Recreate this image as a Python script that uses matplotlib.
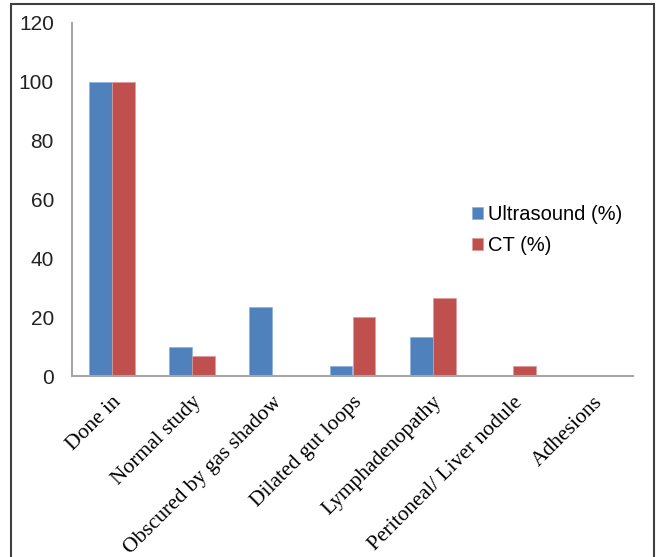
import matplotlib
matplotlib.use("Agg")
import matplotlib.pyplot as plt
import numpy as np
from matplotlib.patches import Rectangle

categories = ["Done in", "Normal study", "Obscured by gas shadow", "Dilated gut loops",
              "Lymphadenopathy", "Peritoneal/ Liver nodule", "Adhesions"]
ultrasound = [100, 10, 23.33, 3.33, 13.33, 0, 0]
ct = [100, 6.67, 0, 20, 26.67, 3.33, 0]
series_names = ["Ultrasound (%)", "CT (%)"]
yticks = [0, 20, 40, 60, 80, 100, 120]

W, H = 657, 557
fig = plt.figure(figsize=(W / 100, H / 100), dpi=100)
ax = fig.add_axes([72 / W, 1 - 376 / H, (633 - 72) / W, (376 - 23) / H])

x = np.arange(len(categories))
bw = 1 / 3.5
ax.bar(x - bw / 2, ultrasound, bw, color="#4F81BD", edgecolor="#8fb0dc", linewidth=0.5, label=series_names[0])
ax.bar(x + bw / 2, ct, bw, color="#C0504D", edgecolor="#e09a98", linewidth=0.5, label=series_names[1])

ax.set_xlim(-0.5, len(categories) - 0.5)
ax.set_ylim(0, 120)
ax.set_yticks(yticks)
ax.set_yticklabels([str(v) for v in yticks], family="Liberation Sans", fontsize=15, color="#222222")
ax.set_xticks(x)
ax.set_xticklabels(categories, rotation=45, ha="right", rotation_mode="anchor",
                   family="Liberation Serif", fontsize=15.5)
ax.tick_params(axis="both", length=0)
ax.tick_params(axis="y", pad=13)
ax.tick_params(axis="x", pad=12)
for s in ["top", "right"]:
    ax.spines[s].set_visible(False)
for s in ["left", "bottom"]:
    ax.spines[s].set_color("#a6a6a6")
    ax.spines[s].set_linewidth(1.5)

leg = fig.legend(loc="upper left", bbox_to_anchor=(454 / W, 1 - 187 / H), frameon=False,
                 prop={"family": "Liberation Sans", "size": 14.5},
                 handlelength=0.55, handleheight=0.55, handletextpad=0.25, labelspacing=0.6)

fig.patches.append(Rectangle((11 / W, -0.05), (654 - 11) / W, 1.05 - 4 / H, transform=fig.transFigure,
                             fill=False, edgecolor="#404040", linewidth=1.5))

fig.savefig("out.png", dpi=100)
